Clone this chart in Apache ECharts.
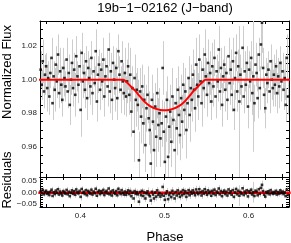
<!DOCTYPE html>
<html><head><meta charset="utf-8">
<script src="https://cdn.jsdelivr.net/npm/echarts@6/dist/echarts.min.js"></script>
<style>html,body{margin:0;padding:0;background:#fff}#c{width:291px;height:243px}</style>
</head><body><div id="c"></div>
<script>
const phase = [
0.3528,0.3541,0.3553,0.3567,0.3579,0.3592,0.3606,0.3618,0.3631,0.3643,
0.3657,0.3669,0.3682,0.3695,0.3708,0.3720,0.3734,0.3746,0.3759,0.3772,
0.3785,0.3797,0.3811,0.3823,0.3836,0.3849,0.3862,0.3874,0.3888,0.3900,
0.3913,0.3926,0.3939,0.3951,0.3965,0.3977,0.3990,0.4003,0.4016,0.4028,
0.4042,0.4054,0.4067,0.4080,0.4093,0.4105,0.4119,0.4131,0.4144,0.4157,
0.4170,0.4182,0.4196,0.4208,0.4221,0.4234,0.4247,0.4259,0.4273,0.4285,
0.4298,0.4311,0.4324,0.4336,0.4350,0.4362,0.4375,0.4388,0.4401,0.4413,
0.4427,0.4439,0.4452,0.4465,0.4478,0.4490,0.4504,0.4516,0.4529,0.4542,
0.4555,0.4567,0.4581,0.4593,0.4606,0.4619,0.4632,0.4644,0.4658,0.4670,
0.4683,0.4696,0.4709,0.4721,0.4735,0.4747,0.4760,0.4773,0.4786,0.4798,
0.4812,0.4824,0.4837,0.4850,0.4863,0.4875,0.4889,0.4901,0.4914,0.4927,
0.4940,0.4952,0.4966,0.4978,0.4991,0.5004,0.5017,0.5029,0.5043,0.5055,
0.5068,0.5081,0.5094,0.5106,0.5120,0.5132,0.5145,0.5158,0.5171,0.5183,
0.5197,0.5209,0.5222,0.5235,0.5248,0.5260,0.5274,0.5286,0.5299,0.5312,
0.5325,0.5337,0.5351,0.5363,0.5376,0.5389,0.5402,0.5414,0.5428,0.5440,
0.5453,0.5466,0.5479,0.5491,0.5505,0.5517,0.5530,0.5543,0.5556,0.5568,
0.5582,0.5594,0.5607,0.5620,0.5633,0.5645,0.5659,0.5671,0.5684,0.5697,
0.5710,0.5722,0.5736,0.5748,0.5761,0.5774,0.5787,0.5799,0.5813,0.5825,
0.5838,0.5851,0.5864,0.5876,0.5890,0.5902,0.5915,0.5928,0.5941,0.5953,
0.5967,0.5979,0.5992,0.6005,0.6018,0.6030,0.6044,0.6056,0.6069,0.6082,
0.6095,0.6107,0.6121,0.6133,0.6146,0.6159,0.6172,0.6184,0.6198,0.6210,
0.6223,0.6236,0.6249,0.6261,0.6275,0.6287,0.6300,0.6313,0.6326,0.6338,
0.6352,0.6364,0.6377,0.6390,0.6403,0.6415,0.6429,0.6441,0.6454,0.6467
];
const flux = [
1.006,0.997,1.011,0.993,1.003,1.008,0.995,1.001,0.990,1.004,
1.013,0.986,1.002,0.994,1.009,0.999,1.015,0.992,1.005,0.997,
0.988,1.007,1.001,0.996,1.012,0.993,1.004,0.985,1.000,1.010,
0.995,1.006,0.991,1.014,1.002,0.997,1.008,0.982,1.016,0.999,
1.004,0.994,1.011,0.989,1.007,1.001,0.996,1.013,0.992,1.005,
0.998,1.017,0.987,1.003,1.009,0.994,1.006,0.999,1.012,0.990,
1.002,1.008,0.996,1.018,0.993,1.005,0.988,1.010,1.000,0.995,
1.007,0.989,1.017,1.003,0.994,1.011,0.999,0.992,1.004,0.990,
0.999,1.008,0.991,1.003,0.981,0.995,0.969,1.001,0.988,0.994,
0.985,0.952,0.993,0.978,0.996,0.974,0.988,0.961,0.983,0.991,
0.977,0.970,0.950,0.988,0.975,0.958,0.984,0.966,0.992,0.973,
0.980,0.965,0.974,1.007,0.969,0.951,0.978,0.988,0.954,0.972,
0.981,0.963,0.990,0.976,0.958,0.986,0.971,0.994,0.979,0.967,
0.989,0.975,0.997,0.982,0.993,0.970,0.986,1.001,0.979,0.995,
0.988,1.003,0.994,0.983,1.009,0.997,0.990,1.012,0.999,0.986,
1.006,0.995,1.015,1.002,0.991,1.010,0.998,1.004,0.987,1.008,
0.996,1.013,0.990,1.005,0.999,1.018,0.993,1.007,0.985,1.002,
1.009,0.994,1.004,0.988,1.014,0.998,1.006,0.991,1.011,0.982,
1.001,1.016,0.993,1.008,0.987,1.003,0.996,1.019,0.990,1.005,
0.997,1.010,0.984,1.006,0.999,1.013,0.992,1.002,0.986,1.009,
1.004,0.989,1.015,0.995,1.021,1.034,1.007,0.991,0.983,1.003,
0.998,1.006,0.993,1.011,1.000,0.995,1.003,0.997,1.008,0.992,
1.002,0.996,1.010,0.999,1.005,0.994,1.001,0.985,1.013,0.990
];
const fluxErr = [
0.011,0.009,0.013,0.010,0.012,0.008,0.014,0.010,0.011,0.009,
0.012,0.010,0.009,0.013,0.011,0.010,0.012,0.009,0.014,0.011,
0.010,0.012,0.011,0.009,0.013,0.010,0.011,0.012,0.009,0.014,
0.011,0.010,0.013,0.012,0.009,0.011,0.010,0.016,0.012,0.010,
0.012,0.011,0.009,0.013,0.010,0.012,0.011,0.010,0.013,0.009,
0.010,0.013,0.012,0.011,0.009,0.012,0.010,0.011,0.013,0.012,
0.011,0.009,0.012,0.010,0.013,0.011,0.012,0.010,0.009,0.014,
0.012,0.013,0.010,0.011,0.014,0.012,0.011,0.013,0.015,0.012,
0.013,0.014,0.012,0.016,0.015,0.013,0.018,0.014,0.016,0.013,
0.015,0.017,0.014,0.016,0.013,0.018,0.015,0.016,0.014,0.017,
0.016,0.014,0.019,0.015,0.017,0.016,0.014,0.018,0.015,0.016,
0.015,0.017,0.014,0.016,0.018,0.020,0.015,0.014,0.017,0.016,
0.016,0.015,0.017,0.014,0.018,0.015,0.016,0.014,0.017,0.015,
0.014,0.016,0.013,0.015,0.014,0.017,0.015,0.013,0.016,0.014,
0.013,0.015,0.012,0.014,0.016,0.013,0.014,0.015,0.012,0.014,
0.013,0.012,0.015,0.011,0.013,0.014,0.012,0.013,0.011,0.014,
0.012,0.011,0.013,0.010,0.012,0.014,0.011,0.012,0.013,0.010,
0.011,0.013,0.010,0.012,0.011,0.013,0.012,0.010,0.014,0.012,
0.013,0.011,0.012,0.010,0.045,0.012,0.011,0.013,0.010,0.012,
0.012,0.010,0.013,0.011,0.012,0.010,0.013,0.045,0.011,0.013,
0.011,0.012,0.010,0.013,0.014,0.018,0.012,0.011,0.012,0.010,
0.012,0.011,0.013,0.010,0.012,0.011,0.012,0.013,0.010,0.012,
0.011,0.013,0.010,0.012,0.011,0.012,0.013,0.010,0.014,0.011
];
const residuals = [
0.006,-0.003,0.011,-0.007,0.003,0.008,-0.005,0.001,-0.010,0.004,
0.013,-0.014,0.002,-0.006,0.009,-0.001,0.015,-0.008,0.005,-0.003,
-0.012,0.007,0.001,-0.004,0.012,-0.007,0.004,-0.015,0.000,0.010,
-0.005,0.006,-0.009,0.014,0.002,-0.003,0.008,-0.018,0.016,-0.001,
0.004,-0.006,0.011,-0.011,0.007,0.001,-0.004,0.013,-0.008,0.005,
-0.002,0.017,-0.013,0.003,0.009,-0.006,0.006,-0.001,0.012,-0.010,
0.002,0.008,-0.004,0.018,-0.007,0.005,-0.012,0.010,0.000,-0.005,
0.007,-0.011,0.017,0.003,-0.006,0.011,-0.001,-0.008,0.005,-0.009,
0.001,0.010,-0.006,0.007,-0.015,0.000,-0.025,0.007,-0.005,0.002,
-0.007,-0.039,0.003,-0.011,0.008,-0.014,0.001,-0.025,-0.003,0.006,
-0.008,-0.015,-0.034,0.004,-0.008,-0.025,0.001,-0.017,0.010,-0.009,
-0.002,-0.017,-0.008,0.025,-0.013,-0.031,-0.004,0.006,-0.028,-0.010,
-0.001,-0.019,0.008,-0.007,-0.025,0.003,-0.012,0.010,-0.005,-0.018,
0.004,-0.011,0.011,-0.005,0.006,-0.018,-0.003,0.011,-0.011,0.004,
-0.004,0.010,0.000,-0.011,0.014,0.001,-0.006,0.015,0.002,-0.012,
0.007,-0.004,0.015,0.002,-0.009,0.010,-0.002,0.004,-0.013,0.008,
-0.004,0.013,-0.010,0.005,-0.001,0.018,-0.007,0.007,-0.015,0.002,
0.009,-0.006,0.004,-0.012,0.014,-0.002,0.006,-0.009,0.011,-0.018,
0.001,0.016,-0.007,0.008,-0.013,0.003,-0.004,0.019,-0.010,0.005,
-0.003,0.010,-0.016,0.006,-0.001,0.013,-0.008,0.002,-0.014,0.009,
0.004,-0.011,0.015,-0.005,0.021,0.034,0.007,-0.009,-0.017,0.003,
-0.002,0.006,-0.007,0.011,0.000,-0.005,0.003,-0.003,0.008,-0.008,
0.002,-0.004,0.010,-0.001,0.005,-0.006,0.001,-0.015,0.013,-0.010
];
const modelPhase = [0.350,0.451,0.455,0.460,0.465,0.470,0.475,0.480,0.485,0.490,0.495,0.500,0.505,0.510,0.515,0.520,0.525,0.530,0.535,0.540,0.545,0.549,0.650];
const modelFlux  = [1.000,1.000,0.9985,0.9960,0.9935,0.9905,0.9875,0.9852,0.9836,0.9826,0.9820,0.9818,0.9820,0.9826,0.9836,0.9852,0.9875,0.9905,0.9935,0.9960,0.9985,1.000,1.000];
const zeroPhase = [0.350,0.650];
const zeroResid = [0,0];

const xLabelTicks = [0.4,0.5,0.6];
const xTicks = [0.36,0.38,0.40,0.42,0.44,0.46,0.48,0.50,0.52,0.54,0.56,0.58,0.60,0.62,0.64];
const fluxLabelTicks = [0.96,0.98,1.00,1.02];
const fluxMinorTicks = [0.945,0.950,0.955,0.960,0.965,0.970,0.975,0.980,0.985,0.990,0.995,1.000,1.005,1.010,1.015,1.020,1.025,1.030];
const residLabelTicks = [-0.05,0,0.05];
const residMinorTicks = [-0.06,-0.05,-0.04,-0.03,-0.02,-0.01,0,0.01,0.02,0.03,0.04,0.05,0.06];

const FONT = 'Liberation Sans';
const X0 = 0.352, X1 = 0.648;
const Y0 = 0.942, Y1 = 1.035;
const R0 = -0.062, R1 = 0.068;

const chart = echarts.init(document.getElementById('c'), null, {renderer:'canvas'});
const pts = phase.map((p,i)=>[p, flux[i], fluxErr[i]]);
const rpts = phase.map((p,i)=>[p, residuals[i], fluxErr[i]]);
const model = modelPhase.map((p,i)=>[p, modelFlux[i]]);
const zero = zeroPhase.map((p,i)=>[p, zeroResid[i]]);

function errBar(params, api){
  const x = api.value(0), y = api.value(1), e = api.value(2);
  const a = api.coord([x, y - e]), b = api.coord([x, y + e]);
  const px = Math.round(a[0]) + 0.5;
  return {type:'line', shape:{x1:px, y1:a[1], x2:px, y2:b[1]}, style:{stroke:'#cdcdcd', lineWidth:1}};
}
const lineC = '#000';
function xAx(grid, pos, labels){
  return {type:'value', gridIndex:grid, position:pos, min:X0, max:X1,
    axisLine:{show:true, onZero:false, lineStyle:{color:lineC, width:1}},
    axisTick:{show:true, inside:true, length:3, customValues:xTicks, lineStyle:{color:lineC}},
    axisLabel:{show:labels, customValues:xLabelTicks, fontFamily:FONT, fontSize:8, color:'#222', margin:5,
      formatter:v=>v.toFixed(1)},
    splitLine:{show:false}};
}
function yAx(grid, pos, min, max, labTicks, minTicks, labels, fmt){
  return {type:'value', gridIndex:grid, position:pos, min:min, max:max,
    axisLine:{show:true, onZero:false, lineStyle:{color:lineC, width:1}},
    axisTick:{show:true, inside:true, length:3, customValues:minTicks, lineStyle:{color:lineC}},
    axisLabel:{show:labels, customValues:labTicks, fontFamily:FONT, fontSize:8, color:'#222', margin:3, formatter:fmt},
    splitLine:{show:false}};
}
const fmtF = v=>v.toFixed(2);
const fmtR = v=>{const s = Math.abs(v).toFixed(2); return v < -1e-9 ? '\u2212'+s : s;};

chart.setOption({
  animation:false,
  backgroundColor:'#fff',
  grid:[{left:40, right:2, top:21, height:156}, {left:40, right:2, top:177, height:30}],
  xAxis:[xAx(0,'bottom',false), xAx(0,'top',false), xAx(1,'bottom',true), xAx(1,'top',false)],
  yAxis:[yAx(0,'left',Y0,Y1,fluxLabelTicks,fluxMinorTicks,true,fmtF),
         yAx(0,'right',Y0,Y1,fluxLabelTicks,fluxMinorTicks,false,fmtF),
         yAx(1,'left',R0,R1,residLabelTicks,residMinorTicks,true,fmtR),
         yAx(1,'right',R0,R1,residLabelTicks,residMinorTicks,false,fmtR)],
  series:[
    {type:'custom', xAxisIndex:0, yAxisIndex:0, data:pts, renderItem:errBar, clip:true, z:1, silent:true},
    {type:'scatter', xAxisIndex:0, yAxisIndex:0, data:pts, symbol:'rect', symbolSize:2.6, itemStyle:{color:'#000'}, z:2, clip:true, silent:true},
    {type:'line', xAxisIndex:0, yAxisIndex:0, data:model, showSymbol:false, smooth:0.3, lineStyle:{color:'#ff0000', width:2}, z:3, clip:true, silent:true},
    {type:'custom', xAxisIndex:2, yAxisIndex:2, data:rpts, renderItem:errBar, clip:true, z:1, silent:true},
    {type:'line', xAxisIndex:2, yAxisIndex:2, data:zero, showSymbol:false, lineStyle:{color:'#ff0000', width:2.5}, z:2, clip:true, silent:true},
    {type:'scatter', xAxisIndex:2, yAxisIndex:2, data:rpts, symbol:'rect', symbolSize:2.6, itemStyle:{color:'#000'}, z:3, clip:true, silent:true}
  ],
  graphic:[
    {type:'text', x:165, y:8, style:{text:'19b\u22121\u221202162 (J\u2212band)', fontFamily:FONT, fontSize:13, fill:'#000', textAlign:'center', textVerticalAlign:'middle'}},
    {type:'text', x:7, y:72, rotation:Math.PI/2, style:{text:'Normalized Flux', fontFamily:FONT, fontSize:13, fill:'#000', textAlign:'center', textVerticalAlign:'middle'}},
    {type:'text', x:7, y:180, rotation:Math.PI/2, style:{text:'Residuals', fontFamily:FONT, fontSize:13, fill:'#000', textAlign:'center', textVerticalAlign:'middle'}},
    {type:'text', x:165, y:237, style:{text:'Phase', fontFamily:FONT, fontSize:13, fill:'#000', textAlign:'center', textVerticalAlign:'middle'}}
  ]
});
</script>
</body></html>
